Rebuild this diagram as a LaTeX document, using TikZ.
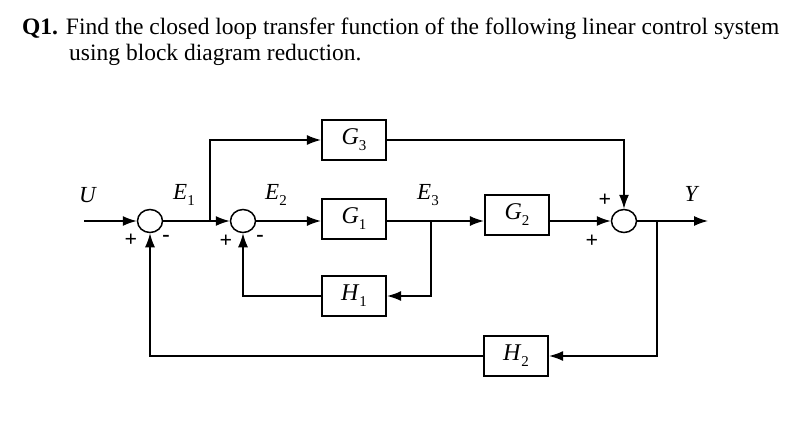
\documentclass[tikz,border=0pt]{standalone}
\usepackage{fontspec}
\setmainfont{Liberation Serif}
\usetikzlibrary{arrows.meta,shapes.geometric}
\newcommand{\vr}[2]{\textit{#1}\raisebox{-0.25em}{\fontsize{15}{15}\selectfont\upshape #2}}
\begin{document}
\begin{tikzpicture}[x=1pt,y=-1pt,
  blk/.style={draw,line width=2.2pt,minimum width=64pt,minimum height=40pt,inner sep=0pt,font=\fontsize{24}{24}\selectfont},
  sum/.style={draw,line width=1.5pt,ellipse,minimum width=25pt,minimum height=23pt,inner sep=0pt},
  ln/.style={line width=1.4pt},
  ar/.style={ln,-{Latex[length=14pt,width=10pt]}},
  lab/.style={font=\fontsize{23}{23}\selectfont},
  sg/.style={font=\fontsize{22}{22}\selectfont\bfseries}]
\useasboundingbox (0,0) rectangle (808,424);
\node[anchor=base west,inner sep=0pt,font=\fontsize{23.5}{23.5}\selectfont] (t1) at (22,34) {\textbf{Q1.} Find the closed loop transfer function of the following linear control system};
\node[anchor=base west,inner sep=0pt,font=\fontsize{23.5}{23.5}\selectfont] (t2) at (69,60) {using block diagram reduction.};
\node[sum] (s1) at (150,221) {};
\node[sum] (s2) at (243,221) {};
\node[sum] (s3) at (624,221) {};
\node[blk] (g3) at (354,140) {\vr{G}{3}};
\node[blk] (g1) at (354,219) {\vr{G}{1}};
\node[blk] (h1) at (354,296) {\vr{H}{1}};
\node[blk] (g2) at (517,215) {\vr{G}{2}};
\node[blk] (h2) at (516,356) {\vr{H}{2}};
\coordinate (u) at (84,221);
\coordinate (y) at (708,221);
\coordinate (b1) at (210,221);
\coordinate (b3) at (431,221);
\coordinate (b4) at (657,221);
\draw[ar] (u) -- (s1);
\draw[ln] (s1) -- (b1);
\draw[ar] (b1) -- (s2);
\draw[ar] (b1) |- (g3);
\draw[ar] (s2) -- (g1.west|-s2);
\draw[ln] (g1.east|-s2) -- (b3);
\draw[ar] (b3) -- (g2.west|-s2);
\draw[ar] (b3) |- (h1);
\draw[ar] (h1) -| (s2);
\draw[ar] (g2.east|-s3) -- (s3);
\draw[ar] (g3) -| (s3);
\draw[ar] (s3) -- (y);
\draw[ar] (b4) |- (h2);
\draw[ar] (h2) -| (s1);
\node[lab] (lu) at (88,195) {\textit{U}};
\node[lab] (le1) at (184,195) {\vr{E}{1}};
\node[lab] (le2) at (276,195) {\vr{E}{2}};
\node[lab] (le3) at (428,195) {\vr{E}{3}};
\node[lab] (ly) at (692,194) {\textit{Y}};
\node[sg] (p1) at (131,240) {+};
\node[sg] (m1) at (166,238) {-};
\node[sg] (p2) at (226,241) {+};
\node[sg] (m2) at (260,238) {-};
\node[sg] (p3) at (605,200) {+};
\node[sg] (p4) at (592,241) {+};
\end{tikzpicture}
\end{document}
